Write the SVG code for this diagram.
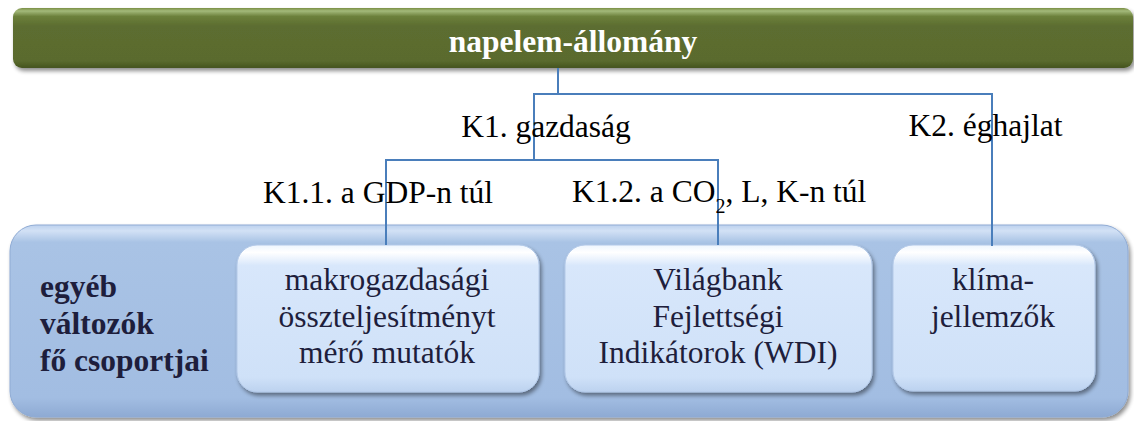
<svg xmlns="http://www.w3.org/2000/svg" width="1134" height="421" viewBox="0 0 1134 421">
  <defs>
    <linearGradient id="gGreen" x1="0" y1="0" x2="0" y2="1">
      <stop offset="0" stop-color="#7a8f45"/>
      <stop offset="0.05" stop-color="#a3b97a"/>
      <stop offset="0.14" stop-color="#6c803b"/>
      <stop offset="0.3" stop-color="#5c6d30"/>
      <stop offset="0.88" stop-color="#5a6b2e"/>
      <stop offset="1" stop-color="#45541f"/>
    </linearGradient>
    <linearGradient id="gOuter" x1="0" y1="0" x2="0" y2="1">
      <stop offset="0" stop-color="#bcd1ee"/>
      <stop offset="0.03" stop-color="#d2e1f5"/>
      <stop offset="0.09" stop-color="#a9c3e5"/>
      <stop offset="0.9" stop-color="#a2bde2"/>
      <stop offset="1" stop-color="#8eaad3"/>
    </linearGradient>
    <linearGradient id="gInner" x1="0" y1="0" x2="0" y2="1">
      <stop offset="0" stop-color="#eef5fe"/>
      <stop offset="0.05" stop-color="#ffffff"/>
      <stop offset="0.14" stop-color="#d8e7fb"/>
      <stop offset="0.9" stop-color="#cfe1f8"/>
      <stop offset="1" stop-color="#bcd2ef"/>
    </linearGradient>
    <filter id="shadow" x="-5%" y="-10%" width="110%" height="125%">
      <feGaussianBlur in="SourceAlpha" stdDeviation="2.2"/>
      <feOffset dx="1.5" dy="3" result="off"/>
      <feComponentTransfer>
        <feFuncA type="linear" slope="0.45"/>
      </feComponentTransfer>
      <feMerge>
        <feMergeNode/>
        <feMergeNode in="SourceGraphic"/>
      </feMerge>
    </filter>
    <style>
      text { font-family: 'Liberation Serif', 'DejaVu Serif', serif; font-size: 31.5px; }
      .lbl { fill: #000000; }
      .box { fill: #1e1e3c; text-anchor: middle; }
      .bold { font-weight: bold; fill: #1e1e3c; }
      .title { font-weight: bold; fill: #ffffff; text-anchor: middle; }
      .conn { fill: none; stroke: #4a7ebb; stroke-width: 2; }
      .inner { fill: url(#gInner); stroke: #b3c9e8; stroke-width: 1; filter: url(#shadow); }
    </style>
  </defs>

  <!-- top bar -->
  <g id="node-napelem">
    <rect x="13" y="8" width="1120" height="60" rx="9" ry="9" fill="url(#gGreen)" filter="url(#shadow)"/>
    <text class="title" x="573" y="52" font-family="Liberation Serif, serif">napelem-állomány</text>
  </g>

  <!-- container of the variable groups -->
  <g id="node-egyeb">
    <rect x="10" y="225" width="1118" height="192" rx="26" ry="26" fill="url(#gOuter)" stroke="#8fabd4" stroke-width="1" filter="url(#shadow)"/>
    <text class="bold" x="40" y="297">egyéb</text>
    <text class="bold" x="40" y="334">változók</text>
    <text class="bold" x="40" y="371">fő csoportjai</text>
  </g>

  <g id="node-makro">
    <rect class="inner" x="237" y="245" width="302" height="147" rx="20" ry="20"/>
    <text class="box" x="387" y="290">makrogazdasági</text>
    <text class="box" x="387" y="327">összteljesítményt</text>
    <text class="box" x="387" y="363">mérő mutatók</text>
  </g>

  <g id="node-wdi">
    <rect class="inner" x="565" y="245" width="307" height="147" rx="20" ry="20"/>
    <text class="box" x="718" y="290">Világbank</text>
    <text class="box" x="718" y="327">Fejlettségi</text>
    <text class="box" x="718" y="363">Indikátorok (WDI)</text>
  </g>

  <g id="node-klima">
    <rect class="inner" x="893" y="245" width="202" height="146" rx="20" ry="20"/>
    <text class="box" x="993" y="290">klíma-</text>
    <text class="box" x="993" y="327">jellemzők</text>
  </g>

  <!-- tree connectors -->
  <g id="connectors">
    <path class="conn" d="M558 68 V94"/>
    <path class="conn" d="M534 160 V94 H992 V246"/>
    <path class="conn" d="M386 245 V160 H718 V245"/>
  </g>

  <!-- branch labels -->
  <g id="labels">
    <text class="lbl" x="546" y="137" text-anchor="middle">K1. gazdaság</text>
    <text class="lbl" x="985.5" y="136" text-anchor="middle">K2. éghajlat</text>
    <text class="lbl" x="378" y="203" text-anchor="middle">K1.1. a GDP-n túl</text>
    <text class="lbl" x="572" y="202">K1.2. a CO<tspan font-size="20" dy="11">2</tspan><tspan dy="-11">, L, K-n túl</tspan></text>
  </g>
</svg>
